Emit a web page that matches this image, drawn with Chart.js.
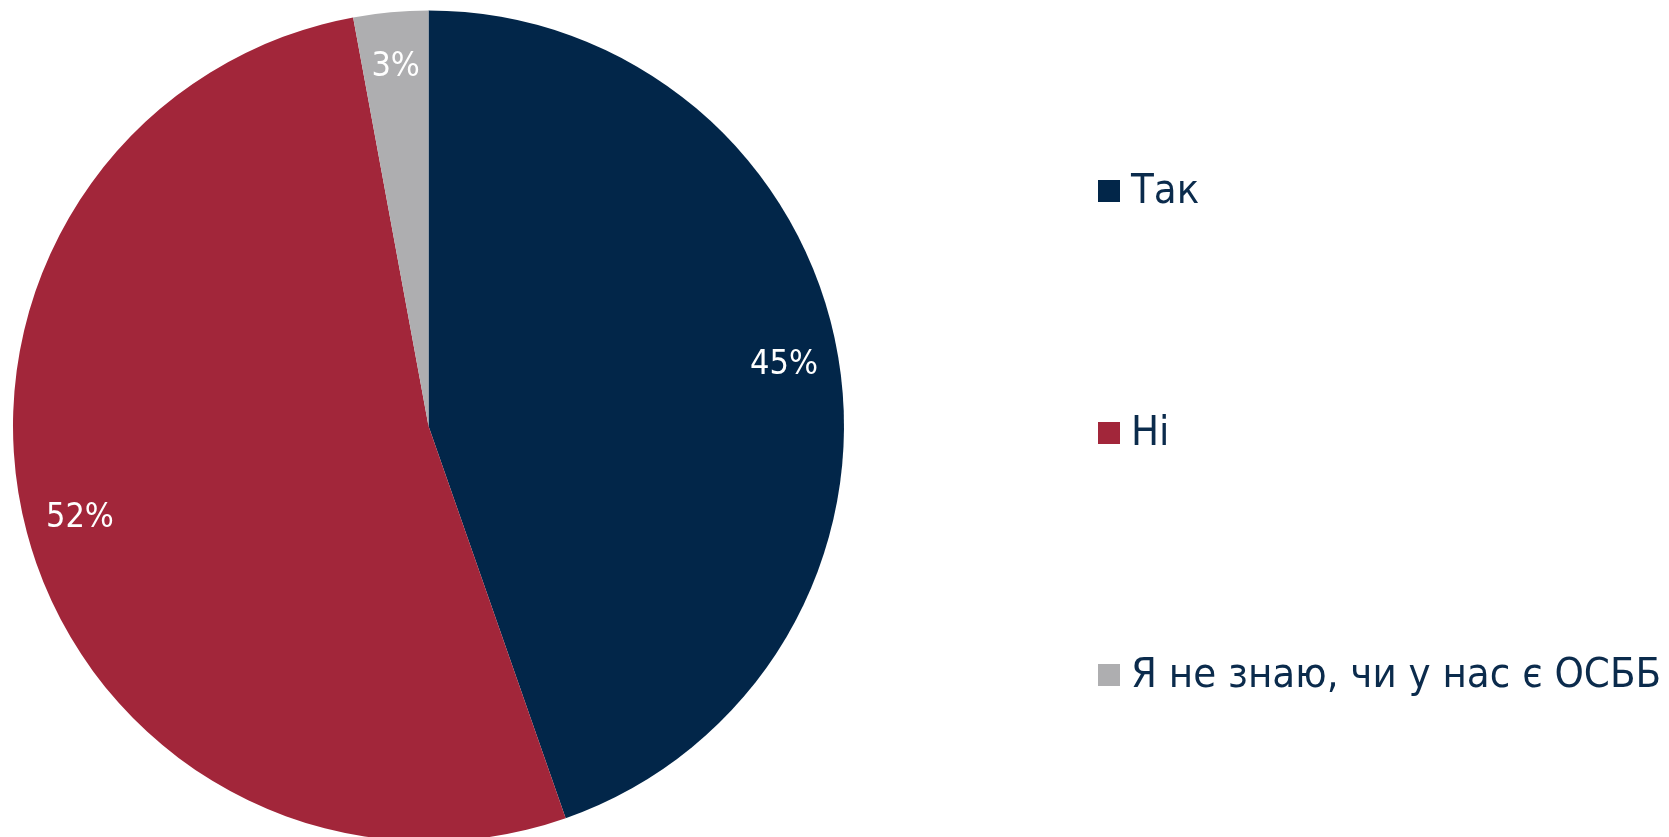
<!DOCTYPE html>
<html>
<head>
<meta charset="utf-8">
<script src="https://cdn.jsdelivr.net/npm/chart.js@4/dist/chart.umd.min.js"></script>
<style>
  html, body { margin: 0; padding: 0; background: #fff; overflow: hidden; }
  #wrap { width: 1669px; height: 850px; }
</style>
</head>
<body>
<div id="wrap"><canvas id="pie" width="1669" height="850"></canvas></div>
<script>
// ===== Data =====
const categories = ['Так', 'Ні', 'Я не знаю, чи у нас є ОСББ'];
const shares = [44.6, 52.4, 2.9];
const shareLabels = ['45%', '52%', '3%'];
const sliceColors = ['#022649', '#A2263A', '#AEAEB0'];

const FONT = '"DejaVu Sans Condensed", "DejaVu Sans", sans-serif';
const TEXT_NAVY = '#0B2B4C';

// labels near the outer rim, like Excel "inside end"
const sliceLabels = {
  id: 'sliceLabels',
  afterDatasetsDraw(chart) {
    const ctx = chart.ctx;
    const meta = chart.getDatasetMeta(0);
    ctx.save();
    ctx.fillStyle = '#ffffff';
    ctx.font = '34px ' + FONT;
    ctx.textAlign = 'center';
    ctx.textBaseline = 'middle';
    meta.data.forEach((arc, i) => {
      const mid = (arc.startAngle + arc.endAngle) / 2;
      const r = arc.outerRadius * 0.868;
      ctx.fillText(shareLabels[i], arc.x + Math.cos(mid) * r, arc.y + Math.sin(mid) * r);
    });
    ctx.restore();
  }
};

// legend on the right, widely spaced
const sideLegend = {
  id: 'sideLegend',
  afterDraw(chart) {
    const ctx = chart.ctx;
    const rows = [191, 433, 675];
    ctx.save();
    ctx.font = '41.5px ' + FONT;
    ctx.textBaseline = 'middle';
    ctx.textAlign = 'left';
    chart.data.labels.forEach((lab, i) => {
      const y = rows[i];
      ctx.fillStyle = chart.data.datasets[0].backgroundColor[i];
      ctx.fillRect(1098, y - 11, 22, 22);
      ctx.fillStyle = TEXT_NAVY;
      ctx.fillText(lab, 1131, y + 1);
    });
    ctx.restore();
  }
};

new Chart(document.getElementById('pie'), {
  type: 'pie',
  data: {
    labels: categories,
    datasets: [{
      data: shares,
      backgroundColor: sliceColors,
      borderWidth: 0,
    }],
  },
  options: {
    responsive: false,
    animation: false,
    layout: { padding: { left: 13, top: 10, right: 825, bottom: 8 } },
    plugins: {
      legend: { display: false },
      tooltip: { enabled: false },
    },
  },
  plugins: [sliceLabels, sideLegend],
});
</script>
</body>
</html>
